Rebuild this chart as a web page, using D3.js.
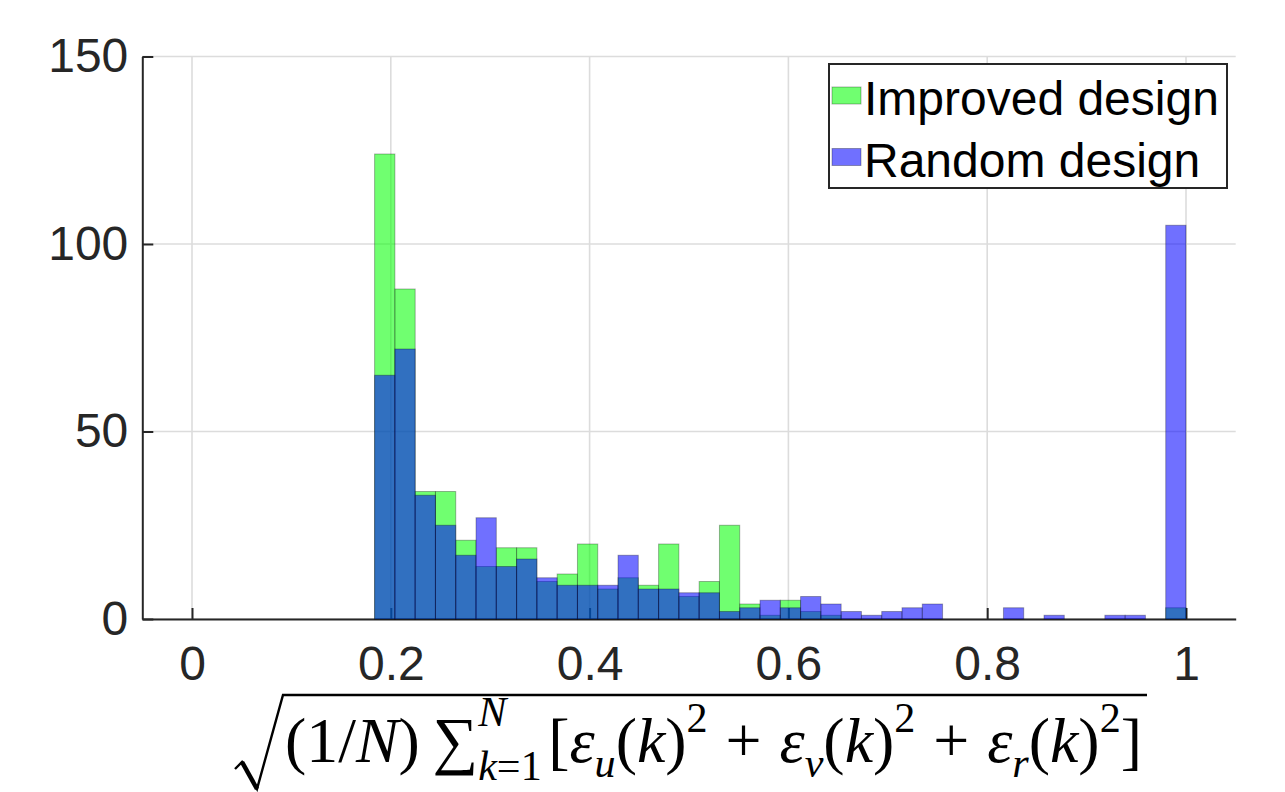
<!DOCTYPE html>
<html><head><meta charset="utf-8">
<script src="https://cdn.jsdelivr.net/npm/d3@7"></script>
<style>html,body{margin:0;padding:0;background:#fff;} svg{display:block}</style>
</head><body><svg id="chart" width="1285" height="792"></svg>
<script>
// ---------------- data ----------------
const seriesNames = ["Improved design", "Random design"];
const improvedCounts = [124,88,34,34,21,14,19,19,10,12,20,8,11,9,20,6,10,25,4,1,5,2,1,0,0,0,0,0,0,0,0,0,0,0,0,0,0,0,0,3];
const randomCounts   = [65,72,33,25,17,27,14,16,11,9,9,9,17,8,8,7,7,2,3,5,3,6,4,2,1,2,3,4,0,0,0,3,0,1,0,0,1,1,0,105];
const binRange = [0.1837, 1.0];
const xTickValues = [0, 0.2, 0.4, 0.6, 0.8, 1];
const xTickLabels = ["0", "0.2", "0.4", "0.6", "0.8", "1"];
const yTickValues = [0, 50, 100, 150];
const yTickLabels = ["0", "50", "100", "150"];
const seriesColors = ["#00ff00", "#0000ff"];

// ---------------- setup ----------------
const svg = d3.select("#chart");
const x = d3.scaleLinear().domain([-0.05, 1.05]).range([142.3, 1235.7]);
const y = d3.scaleLinear().domain([0, 150]).range([619, 56.5]);
const nBins = improvedCounts.length;
const binW = (binRange[1] - binRange[0]) / nBins;
const bins = d3.range(nBins).map(i => ({x0: binRange[0] + i * binW, x1: binRange[0] + (i + 1) * binW}));

const axisColor = "#262626";
const fontSans = "'Liberation Sans', Arial, Helvetica, sans-serif";

// grid
const grid = svg.append("g");
grid.selectAll("line.gx").data(xTickValues).join("line")
  .attr("x1", d => x(d)).attr("x2", d => x(d)).attr("y1", y(0)).attr("y2", y(150))
  .attr("stroke", "#dcdcdc").attr("stroke-width", 1.6);
grid.selectAll("line.gy").data(yTickValues).join("line")
  .attr("x1", x(-0.05)).attr("x2", x(1.05)).attr("y1", d => y(d)).attr("y2", d => y(d))
  .attr("stroke", "#dcdcdc").attr("stroke-width", 1.6);

// axes
const xAxis = svg.append("g").attr("transform", `translate(0,${y(0)})`)
  .call(d3.axisBottom(x).tickValues(xTickValues).tickSize(-11).tickSizeOuter(0).tickPadding(27)
    .tickFormat((d, i) => xTickLabels[i]));
const yAxis = svg.append("g").attr("transform", `translate(${x(-0.05)},0)`)
  .call(d3.axisLeft(y).tickValues(yTickValues).tickSize(-11).tickSizeOuter(0).tickPadding(14)
    .tickFormat((d, i) => yTickLabels[i]));
[xAxis, yAxis].forEach(a => {
  a.select(".domain").attr("stroke", axisColor).attr("stroke-width", 2);
  a.selectAll(".tick line").attr("stroke", axisColor).attr("stroke-width", 2);
  a.selectAll(".tick text").attr("fill", axisColor).attr("font-size", 48).attr("font-family", fontSans);
});

// bars
const seriesData = [improvedCounts, randomCounts];
seriesData.forEach((counts, si) => {
  svg.append("g").selectAll("rect").data(bins.map((b, i) => ({...b, c: counts[i]})).filter(d => d.c > 0))
    .join("rect")
    .attr("x", d => x(d.x0)).attr("width", d => x(d.x1) - x(d.x0))
    .attr("y", d => y(d.c)).attr("height", d => y(0) - y(d.c))
    .attr("fill", seriesColors[si]).attr("fill-opacity", 0.56)
    .attr("stroke", "#000").attr("stroke-opacity", 0.3).attr("stroke-width", 1);
});

// legend
const lg = svg.append("g");
lg.append("rect").attr("x", 829).attr("y", 64).attr("width", 398).attr("height", 124)
  .attr("fill", "#fff").attr("stroke", axisColor).attr("stroke-width", 2);
seriesNames.forEach((name, i) => {
  const yy = 87 + i * 61.5;
  lg.append("rect").attr("x", 832).attr("y", yy).attr("width", 29).attr("height", 17)
    .attr("fill", seriesColors[i]).attr("fill-opacity", 0.56)
    .attr("stroke", "#000").attr("stroke-opacity", 0.3).attr("stroke-width", 1);
  lg.append("text").attr("x", 864).attr("y", 115 + i * 62).attr("font-size", 48)
    .attr("font-family", fontSans).attr("fill", "#000").text(name);
});

// x label (LaTeX-like formula)
const F = 64, S = 0.66 * F;
const fg = svg.append("g").attr("font-family", "'Liberation Serif', 'DejaVu Serif', serif").attr("fill", "#000");
let cx = 0;
function put(t, o = {}) {
  const el = fg.append("text").attr("x", cx).attr("y", o.dy || 0)
    .attr("font-size", o.size || F).attr("font-style", o.it ? "italic" : "normal").text(t);
  cx += el.node().getComputedTextLength();
}
function space(em) { cx += em * F; }
function stack(sup, sub, supDy, subDy) {
  const c0 = cx; let e1 = c0, e2 = c0;
  if (sup) { sup.forEach(p => put(p[0], {it: p[1], size: S, dy: supDy})); e1 = cx; cx = c0; }
  if (sub) { sub.forEach(p => put(p[0], {it: p[1], size: S, dy: subDy})); e2 = cx; }
  cx = Math.max(e1, e2);
}
put("("); put("1"); put("/"); put("N", {it: true}); put(")"); space(0.2);
put("\u2211", {size: F});
stack([["N", true]], [["k", true], ["=", false], ["1", false]], -36, 18);
space(0.1);
put("[");
const comps = ["u", "v", "r"];
comps.forEach((c, i) => {
  put("\u03B5", {it: true});
  stack(null, [[c, true]], 0, 15);
  put("("); put("k", {it: true}); put(")");
  stack([["2", false]], null, -30, 0);
  if (i < comps.length - 1) { space(0.28); put("+"); space(0.28); }
});
put("]");
const sx = (1142 - 285) / cx;
fg.attr("transform", `translate(285,762) scale(${sx},1)`);

// radical sign
svg.append("path").attr("d", "M235,769 L242,762 L257,789 L283,695 L1147,695")
  .attr("fill", "none").attr("stroke", "#000").attr("stroke-width", 2.4).attr("stroke-linejoin", "miter");
svg.append("path").attr("d", "M242,762 L257,789").attr("stroke", "#000").attr("stroke-width", 4.5);
</script>
</body></html>
